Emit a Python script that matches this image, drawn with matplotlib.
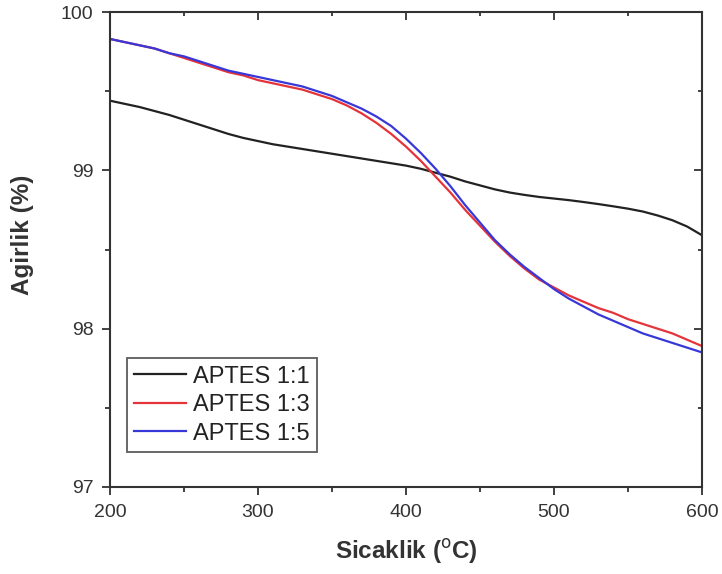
import matplotlib
matplotlib.use("Agg")
import matplotlib.pyplot as plt
from matplotlib.ticker import MultipleLocator

plt.rcParams['font.family'] = ['Liberation Sans', 'DejaVu Sans']

temperature = [200, 210, 220, 230, 240, 250, 260, 270, 280, 290, 300,
               310, 320, 330, 340, 350, 360, 370, 380, 390, 400,
               410, 420, 430, 440, 450, 460, 470, 480, 490, 500,
               510, 520, 530, 540, 550, 560, 570, 580, 590, 600]
aptes_1_1 = [99.44, 99.42, 99.40, 99.375, 99.35, 99.32, 99.29, 99.26, 99.23, 99.205, 99.185,
             99.165, 99.15, 99.135, 99.12, 99.105, 99.09, 99.075, 99.06, 99.045, 99.03,
             99.01, 98.985, 98.96, 98.93, 98.905, 98.88, 98.86, 98.845, 98.832, 98.822,
             98.812, 98.80, 98.787, 98.773, 98.758, 98.74, 98.715, 98.685, 98.645, 98.59]
aptes_1_3 = [99.83, 99.81, 99.79, 99.77, 99.74, 99.71, 99.68, 99.65, 99.62, 99.60, 99.57,
             99.55, 99.53, 99.51, 99.48, 99.45, 99.41, 99.36, 99.30, 99.23, 99.15,
             99.06, 98.96, 98.86, 98.75, 98.65, 98.55, 98.46, 98.38, 98.31, 98.26,
             98.21, 98.17, 98.13, 98.10, 98.06, 98.03, 98.00, 97.97, 97.93, 97.89]
aptes_1_5 = [99.83, 99.81, 99.79, 99.77, 99.74, 99.72, 99.69, 99.66, 99.63, 99.61, 99.59,
             99.57, 99.55, 99.53, 99.50, 99.47, 99.43, 99.39, 99.34, 99.28, 99.20,
             99.11, 99.01, 98.90, 98.78, 98.67, 98.56, 98.47, 98.39, 98.32, 98.25,
             98.19, 98.14, 98.09, 98.05, 98.01, 97.97, 97.94, 97.91, 97.88, 97.85]
series_labels = ['APTES 1:1', 'APTES 1:3', 'APTES 1:5']
series_colors = ['#222222', '#e5333a', '#3838d8']

fig = plt.figure(figsize=(7.22, 5.74), dpi=100)
ax = fig.add_axes([0.1524, 0.1516, 0.8199, 0.8274])

for vals, lab, col in zip([aptes_1_1, aptes_1_3, aptes_1_5], series_labels, series_colors):
    ax.plot(temperature, vals, color=col, lw=1.6, label=lab)

ax.set_xlim(200, 600)
ax.set_ylim(97, 100)
ax.xaxis.set_major_locator(MultipleLocator(100))
ax.xaxis.set_minor_locator(MultipleLocator(50))
ax.yaxis.set_major_locator(MultipleLocator(1))
ax.yaxis.set_minor_locator(MultipleLocator(0.5))
ax.tick_params(which='major', direction='out', length=6, width=1.3, labelsize=14,
               colors='#333333', labelcolor='#333333', pad=6)
ax.tick_params(which='minor', direction='out', length=3.5, width=1.3, colors='#333333')
for s in ax.spines.values():
    s.set_linewidth(1.5)
    s.set_color('#333333')

# mirrored inward ticks on top/right
top = ax.secondary_xaxis('top')
top.xaxis.set_major_locator(MultipleLocator(100))
top.xaxis.set_minor_locator(MultipleLocator(50))
top.tick_params(which='both', direction='in', labeltop=False, width=1.3, colors='#333333')
top.tick_params(which='major', length=6)
top.tick_params(which='minor', length=3)
top.spines['top'].set_visible(False)
right = ax.secondary_yaxis('right')
right.yaxis.set_major_locator(MultipleLocator(1))
right.yaxis.set_minor_locator(MultipleLocator(0.5))
right.tick_params(which='both', direction='in', labelright=False, width=1.3, colors='#333333')
right.tick_params(which='major', length=6)
right.tick_params(which='minor', length=3)
right.spines['right'].set_visible(False)

ax.set_xlabel('Sicaklik ($^{\\mathrm{o}}$C)', fontsize=17.5, fontweight='bold', color='#333333')
ax.set_ylabel('Agirlik (%)', fontsize=17.5, fontweight='bold', color='#333333')
ax.xaxis.set_label_coords(0.5, -0.105)
ax.yaxis.set_label_coords(-0.128, 0.53)

leg = ax.legend(loc='lower left', bbox_to_anchor=(0.029, 0.074), fontsize=17, frameon=True,
                fancybox=False, edgecolor='#333333', handlelength=2.2, handletextpad=0.3,
                borderpad=0.3, labelspacing=0.28, borderaxespad=0)
leg.get_frame().set_linewidth(1.3)
for t in leg.get_texts():
    t.set_color('#222222')

fig.savefig('out.png', dpi=100)
